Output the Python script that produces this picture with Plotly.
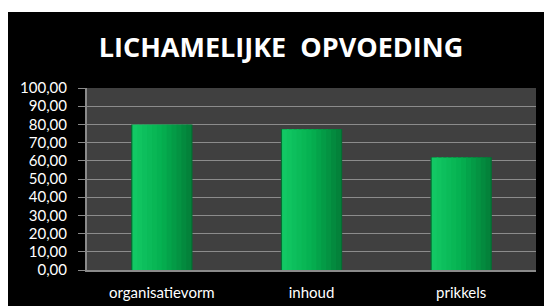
import plotly.graph_objects as go

categories = ["organisatievorm", "inhoud", "prikkels"]
values = [80.0, 77.5, 62.0]
tick_vals = [0, 10, 20, 30, 40, 50, 60, 70, 80, 90, 100]
tick_text = ["0,00", "10,00", "20,00", "30,00", "40,00", "50,00", "60,00", "70,00", "80,00", "90,00", "100,00"]
title_text = "LICHAMELIJKE\u00a0 OPVOEDING"

W, H = 552, 306
L, R, T, B = 79, 24, 80, 44
pw, ph = W - L - R, H - T - B

BAR_W = 0.41
N = 12
c_left = (18, 200, 100)
c_mid = (5, 176, 80)
c_right = (3, 130, 58)


def lerp(a, b, t):
    return tuple(int(round(a[i] + (b[i] - a[i]) * t)) for i in range(3))


fig = go.Figure()
# dark outline/base
fig.add_trace(go.Bar(
    x=categories, y=values, width=BAR_W, offset=-BAR_W / 2,
    marker=dict(color="rgb(4,110,50)", line=dict(width=0)),
    hoverinfo="skip",
))
inner = BAR_W * 0.96
step = inner / N
for i in range(N):
    t = i / (N - 1)
    c = lerp(c_left, c_mid, t * 2) if t < 0.5 else lerp(c_mid, c_right, (t - 0.5) * 2)
    w = step + (0.012 if i < N - 1 else 0)
    fig.add_trace(go.Bar(
        x=categories, y=[v * 0.997 for v in values],
        width=w, offset=-inner / 2 + i * step,
        marker=dict(color="rgb(%d,%d,%d)" % c, line=dict(width=0)),
        hoverinfo="skip",
    ))

fig.update_layout(
    width=W, height=H,
    margin=dict(l=L, r=R, t=T, b=B),
    paper_bgcolor="black",
    plot_bgcolor="#404040",
    showlegend=False,
    barmode="overlay",
    title=dict(text=title_text, x=(273 - L) / pw, xref="paper", xanchor="center",
               y=1 - 40 / H, yanchor="middle",
               font=dict(family="Open Sans", size=27, color="white", weight="bold")),
    font=dict(family="Lato", size=15, color="white"),
    shapes=[
        dict(type="rect", xref="paper", yref="paper", layer="below",
             x0=-L / pw - 0.05, x1=(W - L) / pw + 0.05,
             y0=(H - B - 4) / ph, y1=(H - B) / ph + 0.05,
             fillcolor="white", line=dict(width=0)),
    ],
    xaxis=dict(showgrid=False, showline=True, linecolor="#8a8a8a", linewidth=2,
               ticks="outside", ticklen=8, tickcolor="rgba(0,0,0,0)",
               tickfont=dict(size=15, color="white")),
    yaxis=dict(range=[0, 100], tickvals=tick_vals, ticktext=tick_text,
               showgrid=True, gridcolor="#8c8c8c", gridwidth=1,
               showline=True, linecolor="#8a8a8a", linewidth=2,
               ticks="outside", ticklen=7, tickcolor="#8a8a8a",
               ticklabelstandoff=8,
               tickfont=dict(size=15, color="white"), zeroline=False),
)

fig.write_html("out.html")
